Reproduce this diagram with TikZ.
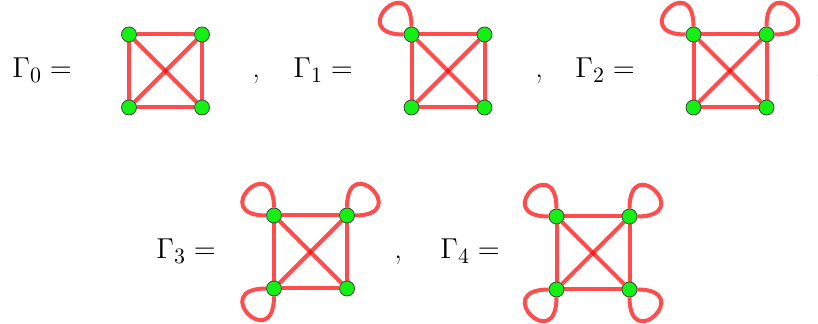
\documentclass[tikz,border=0pt]{standalone}
\usetikzlibrary{positioning,backgrounds}
\definecolor{vertgreen}{RGB}{20,240,20}

\begin{document}
\begin{tikzpicture}[x=0.5pt, y=0.5pt,
	vert/.style={circle, draw=black!75, fill=vertgreen, line width=0.4pt,
		minimum size=7.5pt, inner sep=0pt},
	edg/.style={draw=red, draw opacity=0.7, line width=2pt},
	lbl/.style={inner sep=0pt, anchor=base west, font=\fontsize{15.4}{18}\selectfont}
]
	\useasboundingbox (0,0) rectangle (818,324);

	% Four vertices per graph: a top left, b top right, c bottom left, d bottom right
	\foreach \g/\cx/\cy in {0/165.5/253, 1/448/253, 2/730/253, 3/310.5/72, 4/593/71} {
		\node[vert] (g\g a) at (\cx-36.5, \cy+36.5) {};
		\node[vert] (g\g b) at (\cx+36.5, \cy+36.5) {};
		\node[vert] (g\g c) at (\cx-36.5, \cy-36.5) {};
		\node[vert] (g\g d) at (\cx+36.5, \cy-36.5) {};
	}

	% Edges of K4 under the vertices
	\begin{scope}[on background layer]
		\foreach \g in {0,...,4} {
			\draw[edg] (g\g a) -- (g\g b) -- (g\g d) -- (g\g c) -- (g\g a);
			\draw[edg] (g\g a) -- (g\g d);
			\draw[edg] (g\g b) -- (g\g c);
		}
		% Self loops
		\foreach \v/\o/\i in {1a/180/90, 2a/180/90, 2b/90/0,
				3a/180/90, 3b/90/0, 3c/180/270,
				4a/180/90, 4b/90/0, 4c/180/270, 4d/0/270}
			\draw[edg] (g\v.\o) .. controls +(\o:29pt) and +(\i:29pt) .. (g\v.\i);
	\end{scope}

	% Labels and separators
	\node[lbl] (lab0) at (12, 246)  {$\Gamma_0 =$};
	\node[lbl] (sep0) at (252, 246) {,};
	\node[lbl] (lab1) at (293, 246) {$\Gamma_1 =$};
	\node[lbl] (sep1) at (535, 246) {,};
	\node[lbl] (lab2) at (575, 246) {$\Gamma_2 =$};
	\node[lbl] (sep2) at (815, 246) {,};
	\node[lbl] (lab3) at (156, 65)  {$\Gamma_3 =$};
	\node[lbl] (sep3) at (394, 65)  {,};
	\node[lbl] (lab4) at (440, 65)  {$\Gamma_4 =$};
\end{tikzpicture}
\end{document}
